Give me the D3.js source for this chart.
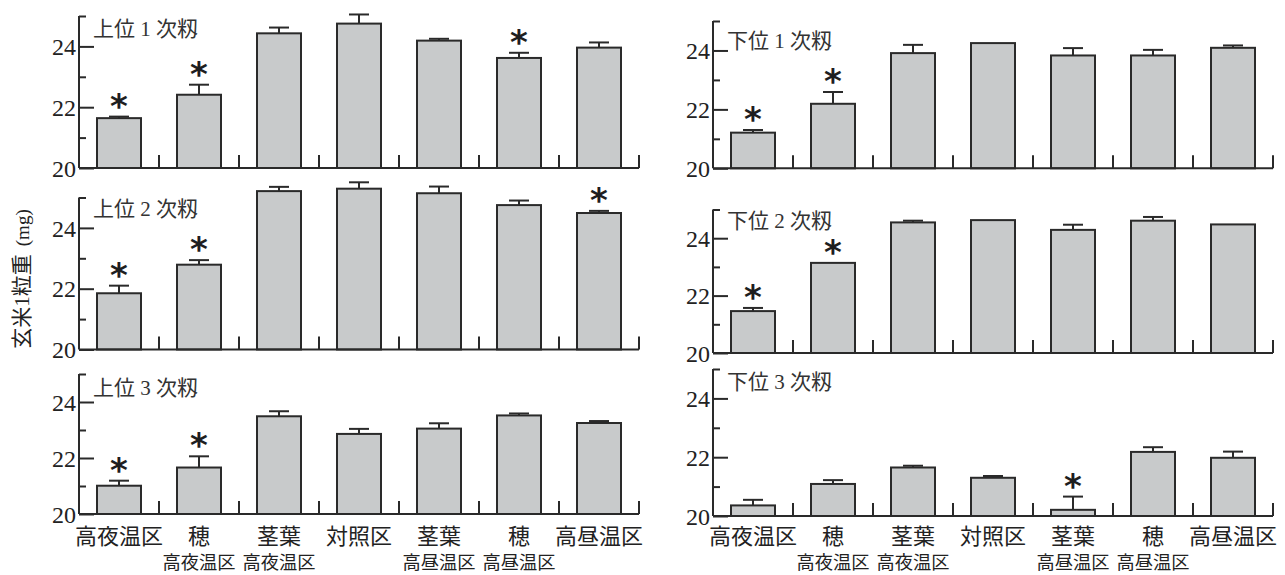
<!DOCTYPE html>
<html><head><meta charset="utf-8">
<script src="https://cdn.jsdelivr.net/npm/d3@7"></script>
<style>body{margin:0;background:#fff} svg{display:block}</style>
</head><body>
<svg id="c" width="1285" height="575"></svg>
<script>
// ---- data ----
const categories = ["高夜温区", "穂高夜温区", "茎葉高夜温区", "対照区", "茎葉高昼温区", "穂高昼温区", "高昼温区"];
const labelTop = ["高夜温区", "穂", "茎葉", "対照区", "茎葉", "穂", "高昼温区"];
const labelBottom = ["", "高夜温区", "高夜温区", "", "高昼温区", "高昼温区", ""];
const panelTitles = ["上位 1 次籾", "上位 2 次籾", "上位 3 次籾", "下位 1 次籾", "下位 2 次籾", "下位 3 次籾"];
const yLabel = "玄米1粒重";
const yUnit = "(mg)";
const yTickValues = [20, 21, 22, 23, 24, 25];
const yTickLabels = ["20", "", "22", "", "24", ""];

const upper1Mean = [21.64, 22.41, 24.43, 24.75, 24.19, 23.62, 23.96];
const upper1Err  = [0.05, 0.33, 0.19, 0.30, 0.06, 0.17, 0.17];
const upper1Sig  = [1, 1, 0, 0, 0, 1, 0];
const upper2Mean = [21.85, 22.79, 25.21, 25.29, 25.14, 24.75, 24.49];
const upper2Err  = [0.25, 0.15, 0.14, 0.21, 0.22, 0.15, 0.07];
const upper2Sig  = [1, 1, 0, 0, 0, 0, 1];
const upper3Mean = [21.01, 21.66, 23.49, 22.86, 23.05, 23.52, 23.25];
const upper3Err  = [0.18, 0.40, 0.18, 0.18, 0.19, 0.07, 0.07];
const upper3Sig  = [1, 1, 0, 0, 0, 0, 0];
const lower1Mean = [21.21, 22.19, 23.91, 24.25, 23.83, 23.83, 24.09];
const lower1Err  = [0.09, 0.40, 0.28, 0, 0.25, 0.19, 0.08];
const lower1Sig  = [1, 1, 0, 0, 0, 0, 0];
const lower2Mean = [21.46, 23.14, 24.55, 24.63, 24.29, 24.61, 24.48];
const lower2Err  = [0.11, 0, 0.06, 0, 0.18, 0.13, 0];
const lower2Sig  = [1, 1, 0, 0, 0, 0, 0];
const lower3Mean = [20.36, 21.09, 21.65, 21.30, 20.21, 22.18, 21.98];
const lower3Err  = [0.19, 0.13, 0.06, 0.06, 0.45, 0.16, 0.21];
const lower3Sig  = [0, 0, 0, 0, 1, 0, 0];

// ---- layout ----
const panels = [
  {title: panelTitles[0], mean: upper1Mean, err: upper1Err, sig: upper1Sig, x0: 79,  base: 168,   top: 16,    titleY: 36,  xlab: false},
  {title: panelTitles[1], mean: upper2Mean, err: upper2Err, sig: upper2Sig, x0: 79,  base: 349.5, top: 197.5, titleY: 216, xlab: false},
  {title: panelTitles[2], mean: upper3Mean, err: upper3Err, sig: upper3Sig, x0: 79,  base: 514,   top: 374,   titleY: 395, xlab: true},
  {title: panelTitles[3], mean: lower1Mean, err: lower1Err, sig: lower1Sig, x0: 713, base: 168.3, top: 21,    titleY: 48,  xlab: false},
  {title: panelTitles[4], mean: lower2Mean, err: lower2Err, sig: lower2Sig, x0: 713, base: 353,   top: 209.5, titleY: 228, xlab: false},
  {title: panelTitles[5], mean: lower3Mean, err: lower3Err, sig: lower3Sig, x0: 713, base: 516,   top: 369,   titleY: 389, xlab: true}
];
const W = 560;
const ink = "#2a2a2a";
const cjk = "'Noto Sans CJK JP', 'Noto Sans CJK SC', sans-serif";
const mixed = "'Liberation Serif', 'Noto Sans CJK JP', serif";

const svg = d3.select("#c");

panels.forEach(p => {
  const g = svg.append("g");
  const x = d3.scaleBand().domain(categories).range([p.x0, p.x0 + W])
    .paddingInner(0.45).paddingOuter(0.225);
  const y = d3.scaleLinear().domain([20, 25]).range([p.base, p.top]);
  const rows = categories.map((c, i) => ({c, m: p.mean[i], e: p.err[i], s: p.sig[i], i}));

  // bars
  g.selectAll("rect.bar").data(rows).join("rect")
    .attr("class", "bar")
    .attr("x", d => x(d.c))
    .attr("width", x.bandwidth())
    .attr("y", d => y(d.m))
    .attr("height", d => y(20) - y(d.m))
    .attr("fill", "#c8cacb").attr("stroke", ink).attr("stroke-width", 2);

  // error bars
  const eb = rows.filter(d => d.e > 0);
  const cx = d => x(d.c) + x.bandwidth() / 2;
  g.selectAll("line.ev").data(eb).join("line")
    .attr("x1", cx).attr("x2", cx)
    .attr("y1", d => y(d.m)).attr("y2", d => y(d.m + d.e))
    .attr("stroke", ink).attr("stroke-width", 2);
  g.selectAll("line.ec").data(eb).join("line")
    .attr("x1", d => cx(d) - 10).attr("x2", d => cx(d) + 10)
    .attr("y1", d => y(d.m + d.e)).attr("y2", d => y(d.m + d.e))
    .attr("stroke", ink).attr("stroke-width", 2);

  // significance stars
  g.selectAll("text.star").data(rows.filter(d => d.s)).join("text")
    .attr("x", cx)
    .attr("y", d => y(d.m + d.e) + 1)
    .attr("text-anchor", "middle")
    .attr("font-family", "'DejaVu Sans', sans-serif")
    .attr("font-weight", "bold")
    .attr("font-size", 34)
    .attr("fill", "#1e1e1e")
    .text("*");

  // x axis line
  const xAxis = d3.axisBottom(x).tickSize(0).tickSizeOuter(0).tickFormat("");
  const xg = g.append("g").attr("transform", `translate(0,${p.base})`).call(xAxis);
  xg.select(".domain").attr("stroke", ink).attr("stroke-width", 2)
    .attr("d", `M${p.x0},0H${p.x0 + W}`);
  xg.selectAll(".tick").remove();

  // separator ticks between groups
  g.selectAll("line.sep").data(categories).join("line")
    .attr("x1", c => x(c) + x.bandwidth() + (x.step() - x.bandwidth()) / 2)
    .attr("x2", c => x(c) + x.bandwidth() + (x.step() - x.bandwidth()) / 2)
    .attr("y1", p.base).attr("y2", p.base - 13)
    .attr("stroke", ink).attr("stroke-width", 2);

  // y axis
  const yAxis = d3.axisLeft(y).tickValues(yTickValues).tickSize(-15).tickSizeOuter(0)
    .tickPadding(3).tickFormat((v, i) => yTickLabels[i]);
  const yg = g.append("g").attr("transform", `translate(${p.x0},0)`).call(yAxis);
  yg.select(".domain").attr("stroke", ink).attr("stroke-width", 2)
    .attr("d", `M0,${p.base}V${p.top}`);
  yg.selectAll(".tick line").attr("stroke", ink).attr("stroke-width", 2)
    .attr("x2", v => (v % 2 === 0 ? 15 : 7));
  yg.selectAll(".tick text")
    .attr("font-family", "'Liberation Serif', serif")
    .attr("font-size", 24).attr("fill", "#222")
    .attr("dy", "0.34em");

  // panel title
  g.append("text").attr("x", p.x0 + 14).attr("y", p.titleY)
    .attr("font-family", mixed).attr("font-size", 21).attr("fill", "#333")
    .attr("xml:space", "preserve")
    .text(p.title);

  // category labels
  if (p.xlab) {
    g.selectAll("text.l1").data(rows).join("text")
      .attr("x", cx).attr("y", 544)
      .attr("text-anchor", "middle").attr("font-family", cjk)
      .attr("font-size", 22).attr("fill", "#222")
      .text(d => labelTop[d.i]);
    g.selectAll("text.l2").data(rows.filter(d => labelBottom[d.i])).join("text")
      .attr("x", cx).attr("y", 569)
      .attr("text-anchor", "middle").attr("font-family", cjk)
      .attr("font-size", 18).attr("fill", "#222")
      .attr("textLength", 73).attr("lengthAdjust", "spacingAndGlyphs")
      .text(d => labelBottom[d.i]);
  }
});

// y axis title
const yt = svg.append("text")
  .attr("transform", "translate(29,279) rotate(-90)")
  .attr("text-anchor", "middle")
  .attr("font-family", mixed).attr("font-size", 21).attr("fill", "#222");
yt.append("tspan").text(yLabel);
yt.append("tspan").attr("dx", 8).attr("font-size", 19).text(yUnit);
</script>
</body></html>
